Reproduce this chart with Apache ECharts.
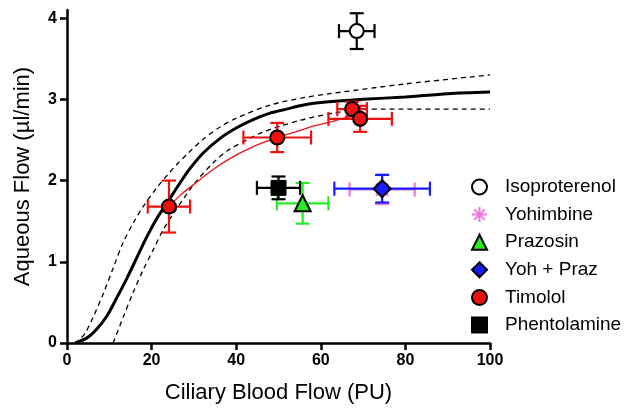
<!DOCTYPE html>
<html><head><meta charset="utf-8">
<script src="https://cdn.jsdelivr.net/npm/echarts@6/dist/echarts.min.js"></script>
<style>html,body{margin:0;padding:0;background:#fff}#c{width:629px;height:412px}</style>
</head><body><div id="c"></div>
<script>
// ---- data ----
const xTicks = [0, 20, 40, 60, 80, 100];
const yTicks = [0, 1, 2, 3, 4];

const isoX = [68.5], isoY = [3.84], isoXErr = [4.2], isoYErr = [0.22];
const yohX = [74.5], yohY = [1.89], yohXErr = [7.7], yohYErr = [0.18];
const prazX = [55.7], prazY = [1.72], prazXErr = [6.1], prazYErr = [0.25];
const ypX = [74.5], ypY = [1.90], ypXErr = [11.3], ypYErr = [0.17];
const timX = [24.1, 49.7, 67.4, 69.3], timY = [1.68, 2.53, 2.88, 2.76];
const timXErr = [5.0, 8.0, 3.5, 7.5], timYErr = [0.32, 0.18, 0.09, 0.16];
const phenX = [50.0], phenY = [1.91], phenXErr = [5.1], phenYErr = [0.14];

// fitted curve
const fitX = [2, 4.65, 7.0, 9.4, 11.7, 14.1, 16.5, 18.8, 21.2, 23.6, 26.7, 29.1, 32.2, 36.2, 40.1, 44.0, 48.0, 51.9, 55.9, 60, 70, 80, 90, 100];
const fitY = [0, 0.06, 0.17, 0.33, 0.55, 0.79, 1.05, 1.30, 1.53, 1.72, 1.97, 2.15, 2.34, 2.52, 2.65, 2.75, 2.83, 2.88, 2.93, 2.96, 3.00, 3.03, 3.07, 3.09];
// upper confidence band
const upX = [1.8, 3, 4.5, 6.2, 8.6, 10.9, 13.3, 15.7, 18.0, 21.2, 23.6, 26.0, 29.1, 32.2, 36.2, 40.1, 48, 55.9, 62.2, 80, 100];
const upY = [0, 0.04, 0.14, 0.32, 0.61, 0.92, 1.24, 1.48, 1.68, 1.91, 2.06, 2.20, 2.36, 2.51, 2.66, 2.77, 2.93, 3.02, 3.07, 3.19, 3.30];
// lower confidence band
const loX = [10.9, 13.3, 15.7, 18.0, 20.4, 22.8, 25.9, 28.0, 30.7, 34.6, 38.0, 42.5, 46.0, 50.4, 55.0, 58.2, 63.0, 68.0, 75, 100];
const loY = [0, 0.32, 0.63, 0.90, 1.15, 1.40, 1.65, 1.81, 2.00, 2.22, 2.37, 2.50, 2.59, 2.67, 2.74, 2.78, 2.83, 2.87, 2.88, 2.88];
// timolol fit line
const redX = [24.1, 27.0, 29.9, 34.6, 38.5, 42.5, 46.0, 49.7, 54.0, 58.2, 61.4, 67.0];
const redY = [1.68, 1.83, 1.95, 2.14, 2.27, 2.38, 2.46, 2.53, 2.60, 2.67, 2.71, 2.79];

const FONT = '"Liberation Sans", Arial, Helvetica, sans-serif';
const zip = (a, b) => a.map((v, i) => [v, b[i]]);
const zip4 = (a, b, c, d) => a.map((v, i) => [v, b[i], c[i], d[i]]);

function errSeries(name, color, data) {
  return {
    type: 'custom', name: name, z: 3, silent: true,
    renderItem: function (params, api) {
      const x = api.value(0), y = api.value(1), xe = api.value(2), ye = api.value(3);
      const l = api.coord([x - xe, y]), r = api.coord([x + xe, y]);
      const t = api.coord([x, y + ye]), b = api.coord([x, y - ye]);
      const cap = 7;
      const st = { stroke: color, lineWidth: 2.2 };
      const ln = (x1, y1, x2, y2) => ({ type: 'line', shape: { x1, y1, x2, y2 }, style: st });
      return { type: 'group', children: [
        ln(l[0], l[1], r[0], r[1]),
        ln(t[0], t[1], b[0], b[1]),
        ln(l[0], l[1] - cap, l[0], l[1] + cap),
        ln(r[0], r[1] - cap, r[0], r[1] + cap),
        ln(t[0] - cap, t[1], t[0] + cap, t[1]),
        ln(b[0] - cap, b[1], b[0] + cap, b[1])
      ]};
    },
    data: data
  };
}
function lineSeries(name, x, y, color, width, dashed) {
  return {
    type: 'line', name: name, data: zip(x, y), showSymbol: false, smooth: 0.3, z: 2, silent: true,
    lineStyle: { color: color, width: width, type: dashed ? [5, 4] : 'solid' }
  };
}
function scatterSeries(name, x, y, symbol, size, fill, border, bw) {
  return {
    type: 'scatter', name: name, data: zip(x, y), symbol: symbol, symbolSize: size, z: 5,
    itemStyle: { color: fill, borderColor: border, borderWidth: bw, opacity: 1 }
  };
}
const ASTER = 'path://M0,-10L0,10M-10,0L10,0M-7,-7L7,7M-7,7L7,-7';

const chart = echarts.init(document.getElementById('c'), null, { renderer: 'canvas' });
chart.setOption({
  backgroundColor: '#fff',
  animation: false,
  textStyle: { fontFamily: FONT },
  grid: { left: 67, right: 139, top: 10, bottom: 69, containLabel: false },
  xAxis: {
    type: 'value', min: 0, max: 100, interval: 20,
    name: 'Ciliary Blood Flow (PU)', nameLocation: 'middle', nameGap: 39,
    nameTextStyle: { fontSize: 22, color: '#000', fontFamily: FONT },
    axisLine: { lineStyle: { color: '#000', width: 2.5 } },
    axisTick: { show: true, length: 7, lineStyle: { color: '#000', width: 2.5 } },
    axisLabel: { color: '#000', fontSize: 16, fontWeight: 'bold', margin: 10, fontFamily: FONT,
      formatter: v => xTicks.indexOf(v) >= 0 ? String(v) : '' },
    splitLine: { show: false }
  },
  yAxis: {
    type: 'value', min: 0, max: 4.1,
    name: 'Aqueous Flow (µl/min)', nameLocation: 'middle', nameGap: 33, nameRotate: 90,
    nameTextStyle: { fontSize: 22, color: '#000', fontFamily: FONT },
    axisLine: { show: true, lineStyle: { color: '#000', width: 2.5 } },
    axisTick: { show: true, length: 7, customValues: yTicks, lineStyle: { color: '#000', width: 2.5 } },
    axisLabel: { color: '#000', fontSize: 16, fontWeight: 'bold', margin: 10, fontFamily: FONT, customValues: yTicks },
    splitLine: { show: false }
  },
  legend: {
    orient: 'vertical', left: 466, top: 172, itemWidth: 15, itemHeight: 15, itemGap: 7.6,
    textStyle: { fontSize: 19, color: '#000', fontFamily: FONT, padding: [0, 0, 0, 13], lineHeight: 20 },
    data: ['Isoproterenol', 'Yohimbine', 'Prazosin', 'Yoh + Praz', 'Timolol', 'Phentolamine'],
    selectedMode: false
  },
  series: [
    lineSeries('upper', upX, upY, '#000', 1.3, true),
    lineSeries('lower', loX, loY, '#000', 1.3, true),
    lineSeries('fit', fitX, fitY, '#000', 3, false),
    lineSeries('timfit', redX, redY, '#e8141a', 1.3, false),
    errSeries('yohErr', '#ee77dd', zip4(yohX, yohY, yohXErr, yohYErr)),
    errSeries('ypErr', '#1a1aff', zip4(ypX, ypY, ypXErr, ypYErr)),
    errSeries('prazErr', '#22ee22', zip4(prazX, prazY, prazXErr, prazYErr)),
    errSeries('phenErr', '#000', zip4(phenX, phenY, phenXErr, phenYErr)),
    errSeries('timErr', '#ee1111', zip4(timX, timY, timXErr, timYErr)),
    errSeries('isoErr', '#000', zip4(isoX, isoY, isoXErr, isoYErr)),
    scatterSeries('Isoproterenol', isoX, isoY, 'circle', 14, '#fff', '#000', 2),
    scatterSeries('Yohimbine', yohX, yohY, ASTER, 17, '#ee77dd', '#ee77dd', 3),
    scatterSeries('Prazosin', prazX, prazY, 'triangle', 16, '#22ee22', '#000', 2),
    scatterSeries('Yoh + Praz', ypX, ypY, 'diamond', 17, '#1a1aff', '#000', 2),
    scatterSeries('Timolol', timX, timY, 'circle', 14, '#ee1111', '#000', 2),
    scatterSeries('Phentolamine', phenX, phenY, 'rect', 15, '#000', '#000', 1)
  ]
});
</script>
</body></html>
